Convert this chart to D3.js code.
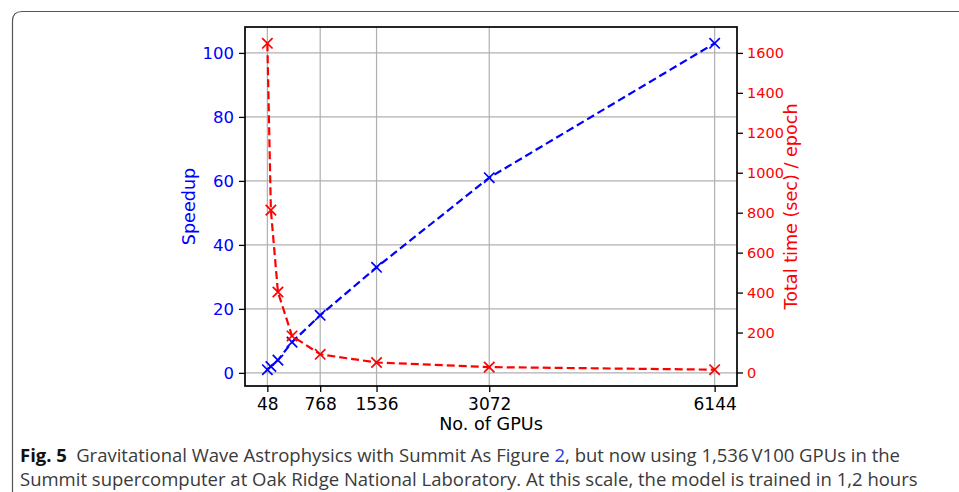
<!DOCTYPE html>
<html>
<head>
<meta charset="utf-8">
<script src="https://cdn.jsdelivr.net/npm/d3@7"></script>
<style>
  body { margin: 0; background: #fff; }
</style>
</head>
<body>
<svg id="chart" width="959" height="492"></svg>
<script>
// Scaling data
const gpus = [48, 96, 192, 384, 768, 1536, 3072, 6144];
const speedup = [1, 2, 4, 9.6, 18, 33, 61, 103];
const timePerEpoch = [1648, 813, 403, 183, 91, 50, 27, 14];
const xTicks = [48, 768, 1536, 3072, 6144];
const speedTicks = [0, 20, 40, 60, 80, 100];
const timeTicks = [0, 200, 400, 600, 800, 1000, 1200, 1400, 1600];

const MPL_FONT = '"DejaVu Sans", sans-serif';
const CAP_FONT = '"Open Sans", "Noto Sans", sans-serif';

const svg = d3.select("#chart");
const plot = { left: 245, right: 737, top: 27, bottom: 386 };

// matplotlib-like 5% padding
function padded(vals) {
  const [lo, hi] = d3.extent(vals);
  const m = (hi - lo) * 0.05;
  return [lo - m, hi + m];
}

const x = d3.scaleLinear().domain(padded(gpus)).range([plot.left, plot.right]);
const yL = d3.scaleLinear().domain(padded(speedup)).range([plot.bottom, plot.top]);
const yR = d3.scaleLinear().domain(padded(timePerEpoch)).range([plot.bottom, plot.top]);

// caption frame
svg.append("path")
  .attr("d", "M12.5,492 L12.5,21 Q12.5,11.5 22,11.5 L959,11.5")
  .attr("fill", "none").attr("stroke", "#555").attr("stroke-width", 1.2);

// grid
const grid = svg.append("g").attr("stroke", "#b0b0b0").attr("stroke-width", 1.2);
grid.selectAll("line.gx").data(xTicks).enter().append("line")
  .attr("x1", d => x(d)).attr("x2", d => x(d))
  .attr("y1", plot.top).attr("y2", plot.bottom);
grid.selectAll("line.gy").data(speedTicks).enter().append("line")
  .attr("y1", d => yL(d)).attr("y2", d => yL(d))
  .attr("x1", plot.left).attr("x2", plot.right);

// axes
const fmt = d3.format("d");
const xAxis = svg.append("g")
  .attr("transform", `translate(0,${plot.bottom})`)
  .call(d3.axisBottom(x).tickValues(xTicks).tickSize(6).tickPadding(6).tickFormat(fmt));
const leftAxis = svg.append("g")
  .attr("transform", `translate(${plot.left},0)`)
  .call(d3.axisLeft(yL).tickValues(speedTicks).tickSize(6).tickPadding(5).tickFormat(fmt));
const rightAxis = svg.append("g")
  .attr("transform", `translate(${plot.right},0)`)
  .call(d3.axisRight(yR).tickValues(timeTicks).tickSize(6).tickPadding(4).tickFormat(fmt));

[xAxis, leftAxis, rightAxis].forEach(a => {
  a.select(".domain").remove();
  a.selectAll("text").style("font-family", MPL_FONT);
  a.selectAll("line").attr("stroke", "#000").attr("stroke-width", 1.3);
});
xAxis.selectAll("text").attr("fill", "#000").style("font-size", "17px");
leftAxis.selectAll("text").attr("fill", "#0000ff").style("font-size", "16.5px");
rightAxis.selectAll("text").attr("fill", "#ff0000").style("font-size", "14.5px");

// frame of plot
svg.append("rect")
  .attr("x", plot.left).attr("y", plot.top)
  .attr("width", plot.right - plot.left).attr("height", plot.bottom - plot.top)
  .attr("fill", "none").attr("stroke", "#000").attr("stroke-width", 1.7);

// series
function drawSeries(vals, yScale, color) {
  const pts = gpus.map((g, i) => [x(g), yScale(vals[i])]);
  svg.append("path")
    .attr("d", d3.line()(pts))
    .attr("fill", "none").attr("stroke", color)
    .attr("stroke-width", 2.2).attr("stroke-dasharray", "8,4");
  const s = 5.2;
  svg.append("g").selectAll("path").data(pts).enter().append("path")
    .attr("d", p => `M${p[0]-s},${p[1]-s}L${p[0]+s},${p[1]+s}M${p[0]-s},${p[1]+s}L${p[0]+s},${p[1]-s}`)
    .attr("stroke", color).attr("stroke-width", 1.7).attr("fill", "none");
}
drawSeries(speedup, yL, "#0000ff");
drawSeries(timePerEpoch, yR, "#ff0000");

// axis labels
function label(txt, color, transform) {
  return svg.append("text").attr("transform", transform)
    .attr("text-anchor", "middle").attr("fill", color)
    .style("font-family", MPL_FONT).style("font-size", "17.6px")
    .text(txt);
}
label("No. of GPUs", "#000", `translate(${(plot.left + plot.right) / 2},429.5)`);
label("Speedup", "#0000ff", `translate(195,${(plot.top + plot.bottom) / 2}) rotate(-90)`);
label("Total time (sec) / epoch", "#ff0000", `translate(797,${(plot.top + plot.bottom) / 2}) rotate(-90)`);

// caption
function capLine(y) {
  return svg.append("text").attr("x", 20).attr("y", y).attr("fill", "#3a3a3a")
    .style("font-family", CAP_FONT).style("font-size", "18.5px");
}
const cap1 = capLine(462);
cap1.append("tspan").attr("font-weight", "bold").attr("fill", "#111").text("Fig. 5");
cap1.append("tspan").text("\u2002Gravitational Wave Astrophysics with Summit As Figure ");
cap1.append("tspan").attr("fill", "#2b3bd8").text("2");
cap1.append("tspan").text(", but now using 1,536\u2009V100 GPUs in the");
capLine(486).text("Summit supercomputer at Oak Ridge National Laboratory. At this scale, the model is trained in 1,2 hours");
</script>
</body>
</html>
